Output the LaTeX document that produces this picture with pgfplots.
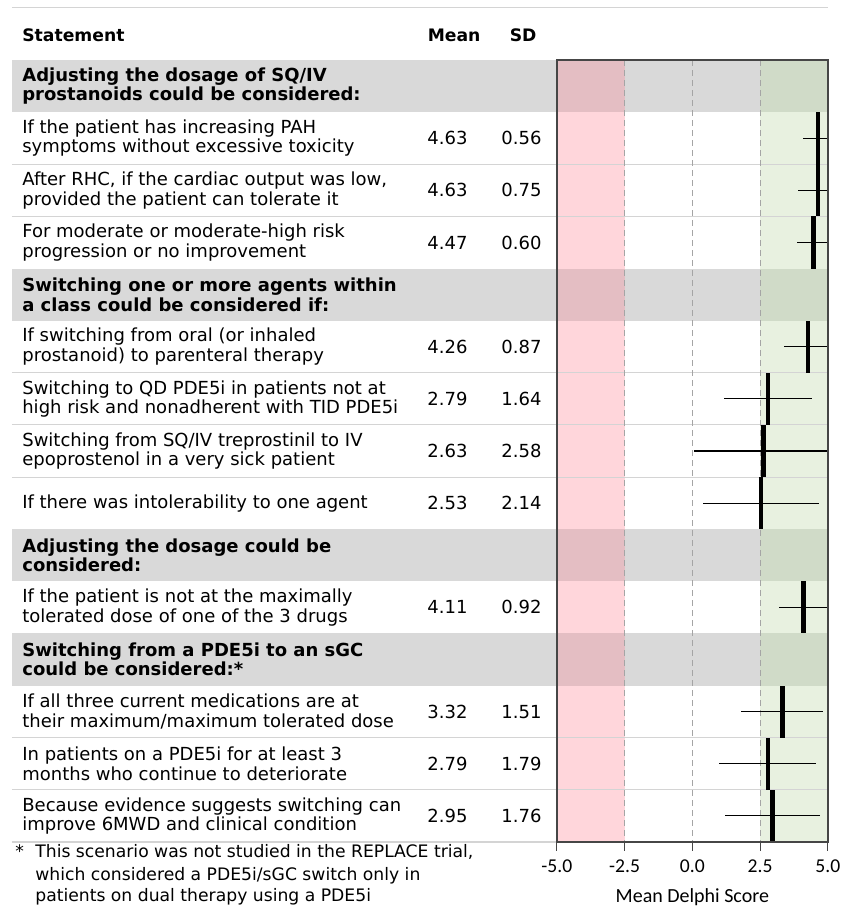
\documentclass[border=0pt]{standalone}
\usepackage{pgfplots}
\pgfplotsset{compat=1.18}
\usepackage{pgfplotstable}
\usepackage{fontspec}
\setmainfont{DejaVu Sans}
\newfontfamily\carlito{Carlito}

\definecolor{pinkL}{RGB}{255,214,219}
\definecolor{pinkD}{RGB}{228,190,195}
\definecolor{greenL}{RGB}{232,241,224}
\definecolor{greenD}{RGB}{208,219,200}
\definecolor{grayH}{RGB}{217,217,217}
\definecolor{sepc}{RGB}{212,212,212}
\definecolor{dashc}{RGB}{165,165,165}
\definecolor{framec}{RGB}{70,70,70}

\pgfplotstableread{
pos mean sd
1.5 4.63 0.56
2.5 4.63 0.75
3.5 4.47 0.60
5.5 4.26 0.87
6.5 2.79 1.64
7.5 2.63 2.58
8.5 2.53 2.14
10.5 4.11 0.92
12.5 3.32 1.51
13.5 2.79 1.79
14.5 2.95 1.76
}\datatable

\newcommand{\bodyf}{\fontsize{9}{9.75}\selectfont}
\newcommand{\headf}{\bfseries\fontsize{9}{9.75}\selectfont}
\newcommand{\footf}{\fontsize{8.6}{10}\selectfont}

\begin{document}
\begin{tikzpicture}
\begin{axis}[
  x=13.55pt, y=26.065pt, y dir=reverse,
  xmin=-5, xmax=5, ymin=0, ymax=15,
  scale only axis,
  axis on top,
  clip mode=individual,
  axis line style={draw=framec, line width=0.7pt},
  ytick=\empty,
  xtick={-5,-2.5,0,2.5,5},
  xtick pos=bottom,
  tick align=outside,
  major tick length=4.5pt,
  tick style={draw=framec, line width=0.6pt},
  /pgf/number format/assume math mode=true,
  xticklabel={\pgfmathprintnumber[fixed,fixed zerofill,precision=1]{\tick}},
  xticklabel style={font=\carlito\fontsize{9.8}{11}\selectfont, yshift=-1pt},
  xlabel={Mean Delphi Score},
  xlabel style={font=\carlito\fontsize{10}{12}\selectfont, inner sep=0pt,
    at={(axis description cs:0.5,0)}, anchor=center, yshift=-27.5pt},
]
% bounding box
\path (axis cs:-25.55,-1.151) rectangle (axis cs:5.52,16.267);
% bands
\fill[pinkL] (axis cs:-5,0) rectangle (axis cs:-2.5,15);
\fill[greenL] (axis cs:2.5,0) rectangle (axis cs:5,15);
% header rows
\fill[grayH] (axis cs:-25.11,0) rectangle (axis cs:5,1);
\fill[pinkD] (axis cs:-5,0) rectangle (axis cs:-2.5,1);
\fill[greenD] (axis cs:2.5,0) rectangle (axis cs:5,1);
\fill[grayH] (axis cs:-25.11,4) rectangle (axis cs:5,5);
\fill[pinkD] (axis cs:-5,4) rectangle (axis cs:-2.5,5);
\fill[greenD] (axis cs:2.5,4) rectangle (axis cs:5,5);
\fill[grayH] (axis cs:-25.11,9) rectangle (axis cs:5,10);
\fill[pinkD] (axis cs:-5,9) rectangle (axis cs:-2.5,10);
\fill[greenD] (axis cs:2.5,9) rectangle (axis cs:5,10);
\fill[grayH] (axis cs:-25.11,11) rectangle (axis cs:5,12);
\fill[pinkD] (axis cs:-5,11) rectangle (axis cs:-2.5,12);
\fill[greenD] (axis cs:2.5,11) rectangle (axis cs:5,12);
% separators
\draw[sepc, line width=0.6pt] (axis cs:-25.11,-1) -- (axis cs:5,-1);
\draw[sepc, line width=0.5pt] (axis cs:-25.11,2) -- (axis cs:5,2);
\draw[sepc, line width=0.5pt] (axis cs:-25.11,3) -- (axis cs:5,3);
\draw[sepc, line width=0.5pt] (axis cs:-25.11,6) -- (axis cs:5,6);
\draw[sepc, line width=0.5pt] (axis cs:-25.11,7) -- (axis cs:5,7);
\draw[sepc, line width=0.5pt] (axis cs:-25.11,8) -- (axis cs:5,8);
\draw[sepc, line width=0.5pt] (axis cs:-25.11,13) -- (axis cs:5,13);
\draw[sepc, line width=0.5pt] (axis cs:-25.11,14) -- (axis cs:5,14);
\draw[sepc, line width=0.6pt] (axis cs:-25.11,15) -- (axis cs:-5,15);
% dashed reference lines
\draw[dashc, line width=0.6pt, dash pattern=on 3pt off 2pt] (axis cs:-2.5,0) -- (axis cs:-2.5,15);
\draw[dashc, line width=0.6pt, dash pattern=on 3pt off 2pt] (axis cs:0,0) -- (axis cs:0,15);
\draw[dashc, line width=0.6pt, dash pattern=on 3pt off 2pt] (axis cs:2.5,0) -- (axis cs:2.5,15);

% data: SD lines
\addplot[draw=none, mark=none, forget plot,
  error bars/.cd, x dir=both, x explicit, error mark=none,
  error bar style={draw=black, line width=0.6pt, solid}]
  table[x=mean, y=pos, x error=sd] {\datatable};
% data: mean bars
\addplot[draw=none, mark=none, forget plot,
  error bars/.cd, y dir=both, y fixed=0.5, error mark=none,
  error bar style={draw=black, line width=2.3pt, solid}]
  table[x=mean, y=pos] {\datatable};

% column headers
\node[anchor=west, inner sep=0, font=\bfseries\fontsize{8.6}{10}\selectfont] at (axis cs:-24.74,-0.48) {Statement};
\node[anchor=east, inner sep=0, font=\bfseries\fontsize{8.6}{10}\selectfont] at (axis cs:-7.804,-0.48) {Mean};
\node[anchor=east, inner sep=0, font=\bfseries\fontsize{8.6}{10}\selectfont] at (axis cs:-5.738,-0.48) {SD};

% statements
\node[anchor=west, inner sep=0, align=left, font=\headf] at (axis cs:-24.74,0.5) {Adjusting the dosage of SQ/IV\\prostanoids could be considered:};
\node[anchor=west, inner sep=0, align=left, font=\bodyf] at (axis cs:-24.74,1.5) {If the patient has increasing PAH\\symptoms without excessive toxicity};
\node[anchor=west, inner sep=0, align=left, font=\bodyf] at (axis cs:-24.74,2.5) {After RHC, if the cardiac output was low,\\provided the patient can tolerate it};
\node[anchor=west, inner sep=0, align=left, font=\bodyf] at (axis cs:-24.74,3.5) {For moderate or moderate-high risk\\progression or no improvement};
\node[anchor=west, inner sep=0, align=left, font=\headf] at (axis cs:-24.74,4.5) {Switching one or more agents within\\a class could be considered if:};
\node[anchor=west, inner sep=0, align=left, font=\bodyf] at (axis cs:-24.74,5.5) {If switching from oral (or inhaled\\prostanoid) to parenteral therapy};
\node[anchor=west, inner sep=0, align=left, font=\bodyf] at (axis cs:-24.74,6.5) {Switching to QD PDE5i in patients not at\\high risk and nonadherent with TID PDE5i};
\node[anchor=west, inner sep=0, align=left, font=\bodyf] at (axis cs:-24.74,7.5) {Switching from SQ/IV treprostinil to IV\\epoprostenol in a very sick patient};
\node[anchor=west, inner sep=0, align=left, font=\bodyf] at (axis cs:-24.74,8.5) {If there was intolerability to one agent};
\node[anchor=west, inner sep=0, align=left, font=\headf] at (axis cs:-24.74,9.5) {Adjusting the dosage could be\\considered:};
\node[anchor=west, inner sep=0, align=left, font=\bodyf] at (axis cs:-24.74,10.5) {If the patient is not at the maximally\\tolerated dose of one of the 3 drugs};
\node[anchor=west, inner sep=0, align=left, font=\headf] at (axis cs:-24.74,11.5) {Switching from a PDE5i to an sGC\\could be considered:*};
\node[anchor=west, inner sep=0, align=left, font=\bodyf] at (axis cs:-24.74,12.5) {If all three current medications are at\\their maximum/maximum tolerated dose};
\node[anchor=west, inner sep=0, align=left, font=\bodyf] at (axis cs:-24.74,13.5) {In patients on a PDE5i for at least 3\\months who continue to deteriorate};
\node[anchor=west, inner sep=0, align=left, font=\bodyf] at (axis cs:-24.74,14.5) {Because evidence suggests switching can\\improve 6MWD and clinical condition};

% mean / sd columns
\foreach \r/\m/\s in {1.5/4.63/0.56, 2.5/4.63/0.75, 3.5/4.47/0.60, 5.5/4.26/0.87, 6.5/2.79/1.64, 7.5/2.63/2.58, 8.5/2.53/2.14, 10.5/4.11/0.92, 12.5/3.32/1.51, 13.5/2.79/1.79, 14.5/2.95/1.76}{
  \edef\temp{\noexpand\node[anchor=east, inner sep=0, font=\noexpand\bodyf] at (axis cs:-8.284,\r) {\m};
  \noexpand\node[anchor=east, inner sep=0, font=\noexpand\bodyf] at (axis cs:-5.553,\r) {\s};}
  \temp
}

% footnote
\node[anchor=base west, inner sep=0, font=\footf] at (axis cs:-25.0,15.30) {*};
\node[anchor=base west, inner sep=0, font=\footf] at (axis cs:-24.26,15.30) {This scenario was not studied in the REPLACE trial,};
\node[anchor=base west, inner sep=0, font=\footf] at (axis cs:-24.26,15.74) {which considered a PDE5i/sGC switch only in};
\node[anchor=base west, inner sep=0, font=\footf] at (axis cs:-24.26,16.145) {patients on dual therapy using a PDE5i};
\end{axis}
\end{tikzpicture}
\end{document}
